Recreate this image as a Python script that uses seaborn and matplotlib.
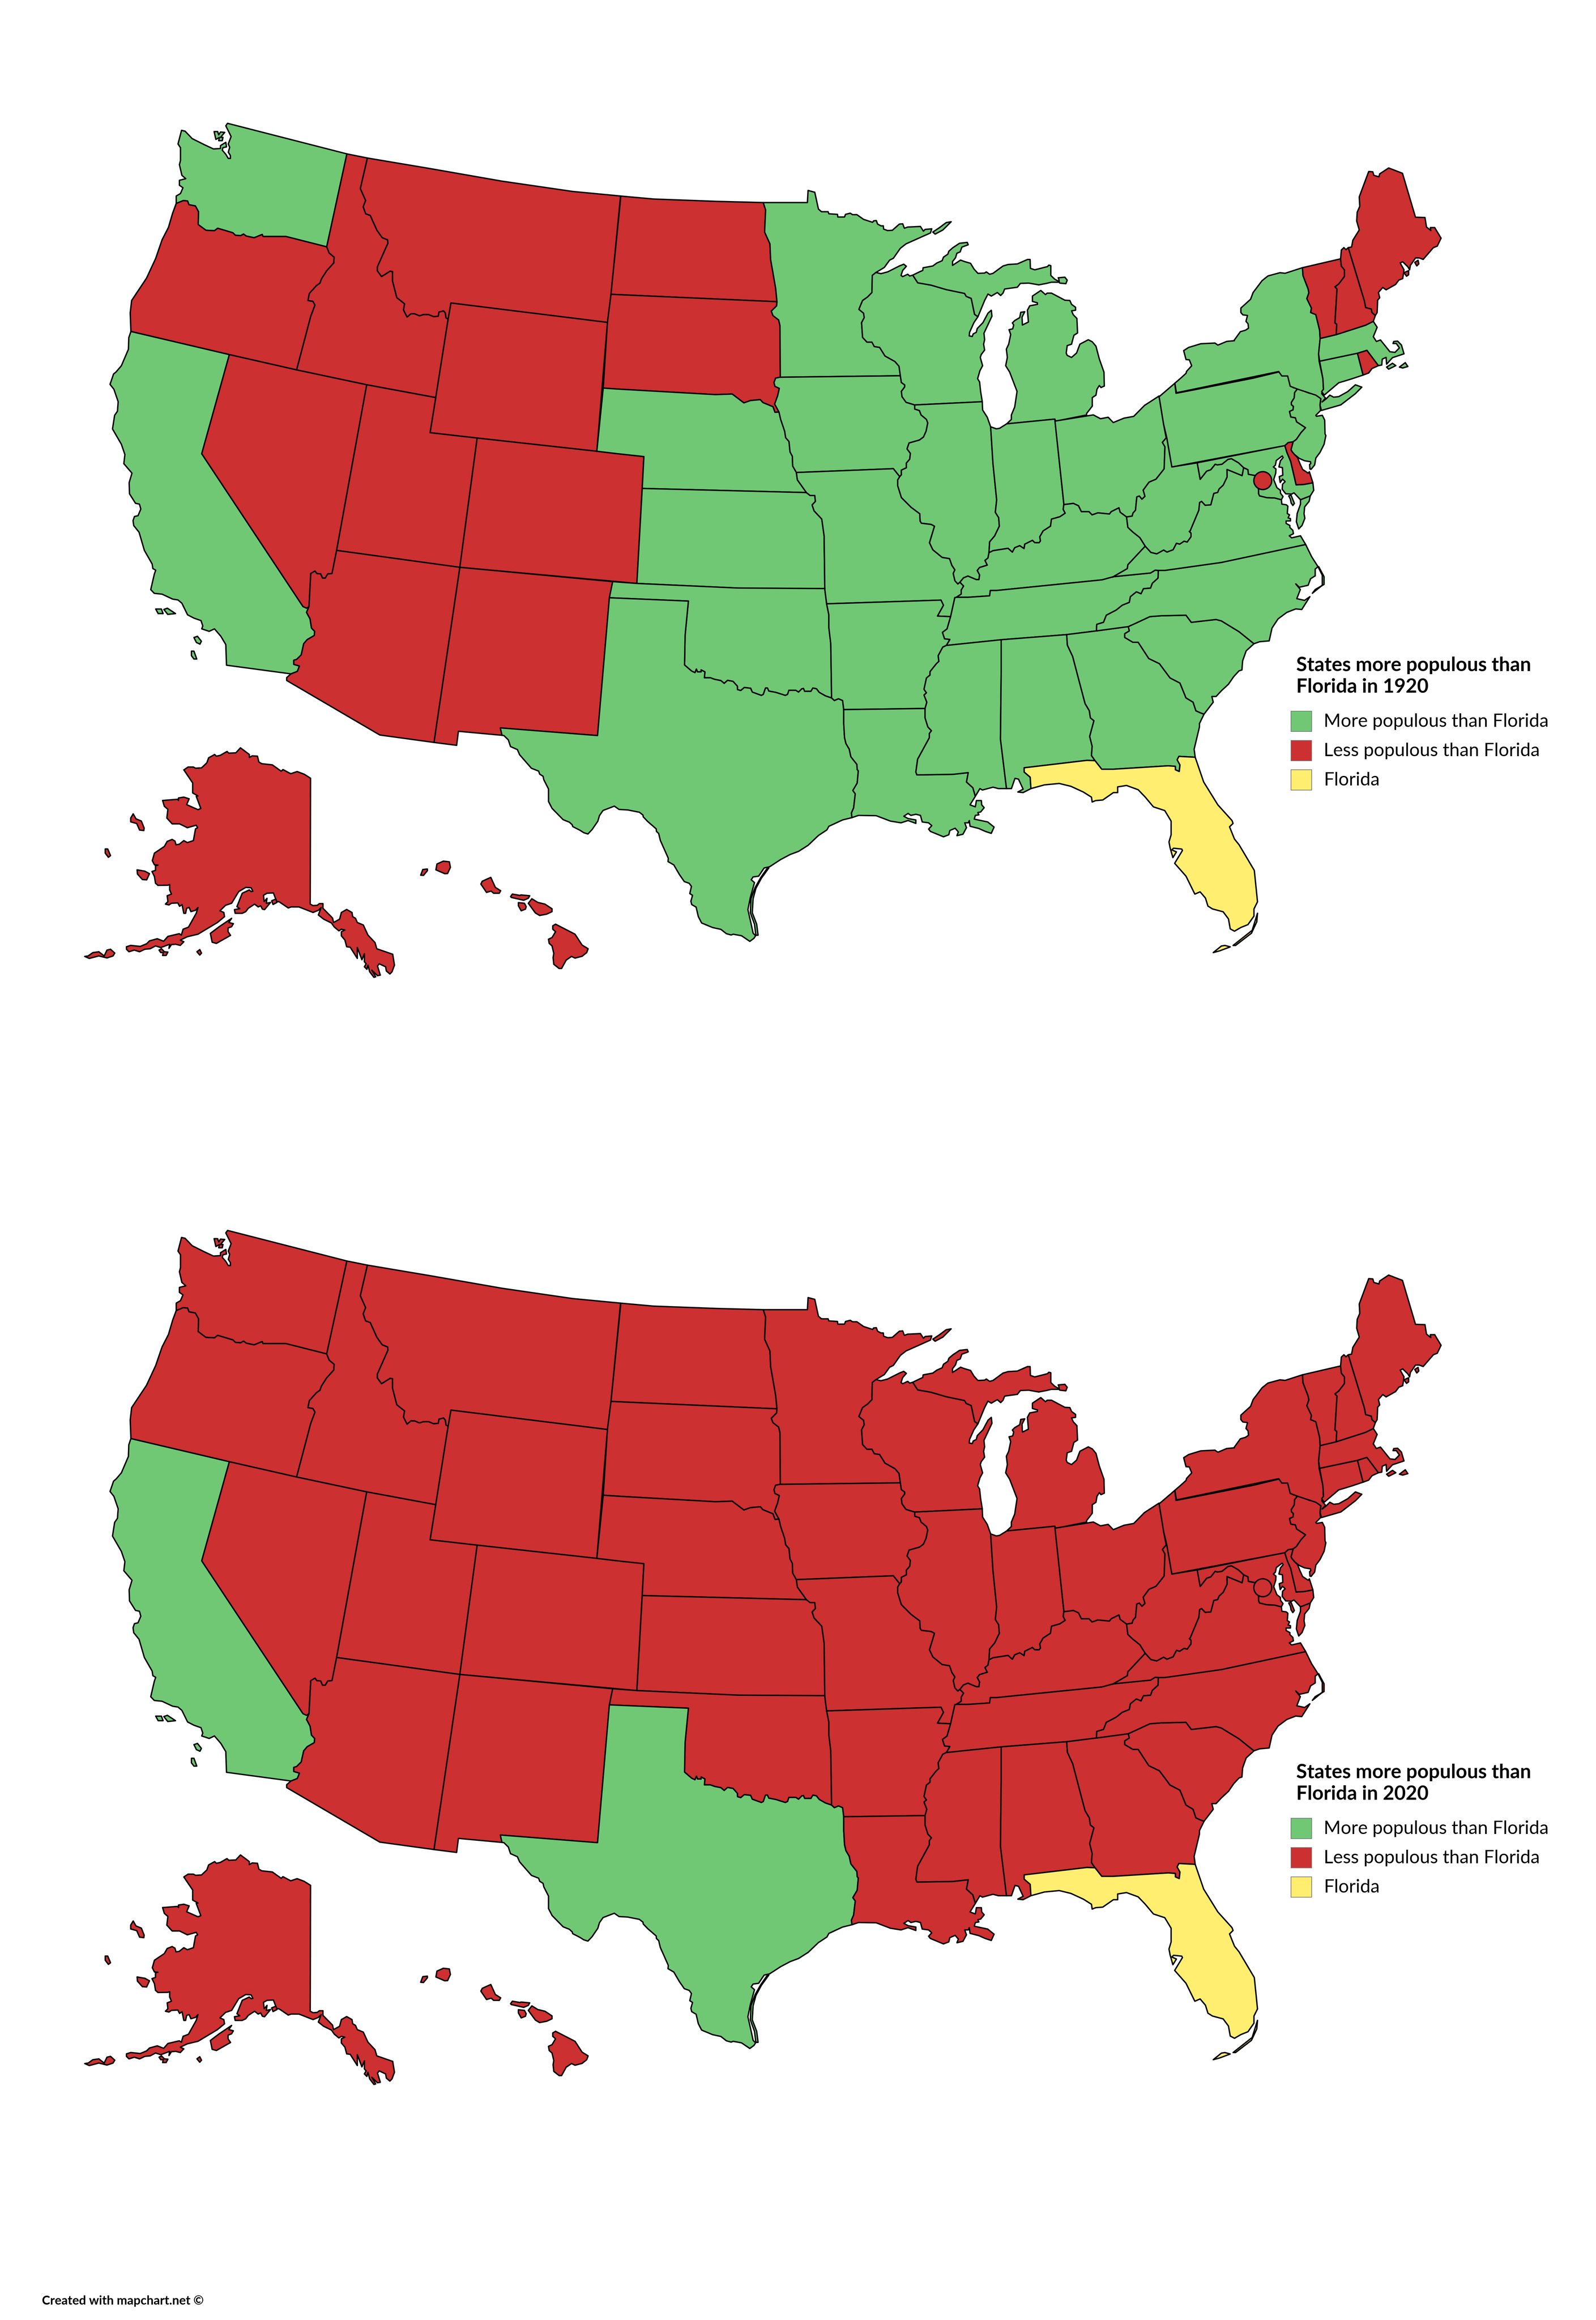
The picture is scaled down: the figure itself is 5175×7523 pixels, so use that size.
import matplotlib
matplotlib.use("Agg")
import matplotlib.pyplot as plt
from matplotlib.patches import Rectangle
import seaborn as sns

sns.set_theme(style="white")
plt.rcParams['font.family'] = ['Lato', 'DejaVu Sans']


def frame(x0, y0, w, h):
    return lambda pts: [(x0 + a * w / 1568, y0 + b * h / 1568) for a, b in pts]


def rev(arc):
    return arc[::-1]


A = frame(250, 350, 1800, 2100)
B = frame(2000, 500, 1700, 1500)
C = frame(3400, 450, 1300, 1500)
D = frame(2600, 1700, 1800, 1450)
E = frame(200, 2350, 1800, 850)
F = frame(1500, 1800, 1400, 1300)
G = frame(3750, 1100, 600, 700)

### shared borders
wa_or = A([(280,232),(300,225),(312,226),(316,235),(334,238),(343,252),(342,283),(364,297),(388,298),(397,292),(440,303),(447,309),(462,310),(470,306),(478,311),(500,315),(523,307),(525,312),(590,312),(705,337)])
or_id = A([(705,337),(712,352),(726,362),(725,376),(705,395),(690,415),(686,425),(676,431),(656,450),(652,467),(666,469),(672,478),(660,505),(620,635)])
id_mt = A([(820,122),(800,196),(815,225),(808,240),(815,257),(828,261),(847,297),(862,315),(877,320),(878,328),(848,386),(848,395),(860,409),(884,396),(891,397),(891,420),(903,460),(925,475),(922,490),(932,507),(943,499),(953,499),(967,504),(978,501),(993,501),(1007,506),(1020,505),(1022,495),(1035,492),(1040,497),(1042,509),(1048,512)])
nv_az = A([(733,1072),(720,1128),(708,1129),(701,1139),(693,1139),(688,1129),(677,1128),(672,1122),(660,1128),(655,1208)])
ca_az = A([(655,1208),(648,1222),(658,1238),(662,1260),(671,1268),(670,1278),(650,1288),(640,1298),(633,1325),(620,1336),(612,1338),(612,1348),(628,1352),(622,1365),(604,1371)])
nd_mn = B([(438,165),(445,190),(442,265),(458,305),(460,358),(475,455),(479,501)])
sd_mn = B([(479,501),(478,515),(462,533),(467,548),(484,563),(488,582),(489,757)])
sd_ia = B([(489,757),(475,760),(470,775),(473,788),(486,795),(481,820),(472,848),(485,875)])
sd_ne = B([(485,875),(473,876),(467,857),(437,843),(429,833),(400,836),(380,844),(345,814),(295,816),(0,797)])
ne_ia = B([(485,875),(490,900),(502,940),(505,962),(515,975),(518,1010),(525,1025),(526,1058),(537,1080)])
ne_mo = B([(537,1080),(540,1105),(567,1148)])
ks_mo = B([(567,1148),(578,1158),(592,1158),(594,1178),(584,1190),(590,1210),(613,1238),(620,1295),(622,1474)])
mn_wi = B([(775,402),(764,412),(763,470),(750,485),(735,497),(724,527),(738,540),(740,555),(732,572),(735,622),(748,638),(763,638),(770,653),(786,656),(802,685),(832,704),(844,720),(848,752)])
ia_wi = B([(848,752),(851,775),(861,783),(861,790),(851,805),(853,823),(865,842),(891,851)])
ia_il = B([(891,851),(891,865),(905,870),(910,885),(926,900),(930,912),(925,940),(917,960),(905,970),(874,980),(868,1000),(878,1015),(876,1035),(866,1048),(866,1064),(851,1072),(851,1088),(846,1094)])
il_mo = B([(846,1094),(840,1105),(840,1125),(851,1165),(880,1198),(906,1220),(907,1245),(911,1252),(940,1256),(950,1262),(935,1318),(945,1342),(973,1368),(995,1372),(1002,1395),(1011,1410),(1006,1422),(1011,1447),(1020,1458),(1026,1452)])
il_ky = B([(1026,1452),(1037,1437),(1050,1431),(1075,1443),(1083,1443),(1085,1427),(1078,1412),(1085,1402),(1108,1394),(1101,1378),(1110,1370),(1113,1352)])
in_ky = B([(1113,1352),(1125,1345),(1170,1337),(1183,1350),(1190,1335),(1205,1328),(1218,1338),(1220,1323),(1243,1310),(1250,1318),(1263,1318),(1267,1312),(1265,1298),(1275,1278),(1297,1262),(1300,1238),(1325,1230),(1341,1218),(1335,1205),(1337,1188)])
il_in = B([(1113,1352),(1115,1315),(1130,1295),(1144,1262),(1142,1233),(1132,1215),(1136,1173),(1125,1050),(1118,925)])
mi_wi = B([(885,411),(900,437),(940,445),(985,460),(1040,473),(1045,483),(1060,490),(1070,544),(1080,552)])
oh_ky = C([(60,1241),(97,1237),(117,1245),(128,1265),(158,1265),(170,1276),(193,1269),(238,1273),(245,1265),(275,1252),(280,1267),(305,1283)])
oh_wv = C([(305,1283),(327,1280),(330,1270),(340,1260),(345,1215),(355,1212),(365,1223),(377,1213),(370,1192),(393,1165),(420,1155),(452,1120),(455,1045),(445,1030),(460,1015)])
wv_ky = C([(305,1283),(310,1318),(328,1333),(357,1353),(378,1382)])
va_wv = C([(378,1382),(400,1403),(423,1408),(450,1395),(463,1402),(487,1394),(500,1372),(513,1375),(530,1365),(542,1368),(557,1350),(557,1338),(550,1332)]) + G([(282,1400),(358,1245),(365,1188),(382,1180),(412,1208),(460,1205),(485,1122),(518,1115),(530,1090),(565,1062),(598,1003),(597,948),(725,993),(738,935)])
ky_mo = B([(1026,1452),(1037,1465),(1030,1478),(1030,1492),(1015,1503)])
ky_tn = B([(1015,1503),(1050,1503),(1115,1498),(1117,1480),(1135,1480)]) + D([(848,196),(880,185)])
va_ky = C([(250,1487),(308,1458),(310,1445),(378,1382)])
tn_va = D([(880,185),(985,172),(998,162),(1007,163)])
va_nc = D([(1007,163),(1025,163),(1185,135),(1423,72)])
tn_nc = D([(1007,163),(1006,190),(990,208),(985,225),(965,227),(958,245),(945,238),(928,255),(925,275),(905,285),(888,302),(860,320),(852,345),(833,352),(832,375)])
tn_ga = D([(832,375),(748,388)])
tn_al = D([(748,388),(563,406)])
tn_ms = D([(563,406),(408,426)])
tn_ar = D([(408,426),(418,405),(403,403),(397,380),(410,368),(420,325)])
tn_mo = D([(420,325),(432,258)])
mo_ar = D([(420,325),(383,323),(400,285),(393,267),(70,280)])
ar_ms = D([(408,426),(398,432),(385,462),(387,482),(380,490),(362,518),(362,530),(352,540),(345,580),(352,592),(345,600),(353,625),(348,647)])
la_ms = D([(348,647),(348,680),(356,712),(366,725),(360,735),(360,750),(327,825),(322,870),(325,880),(427,878),(470,872),(465,905),(483,925),(490,955)])
ar_tx = F([(1340,560),(1350,570),(1365,563),(1380,570),(1384,605)])
la_tx = F([(1384,605),(1384,660),(1387,715),(1392,738),(1404,760),(1410,790),(1432,820),(1433,840),(1437,845),(1433,893),(1417,922),(1426,935),(1420,990),(1412,1010),(1414,1028)])
ok_tx = F([(1340,560),(1318,552),(1295,538),(1285,524),(1272,521),(1265,534),(1242,534),(1238,523),(1232,524),(1220,537),(1210,530),(1185,530),(1180,546),(1172,550),(1137,538),(1112,533),(1107,521),(1100,521),(1092,546),(1085,550),(1052,537),(1046,522),(1023,519),(1010,531),(998,527),(998,514),(982,495),(962,491),(950,503),(938,492),(915,487),(900,481),(878,481),(880,458),(866,450),(866,458),(853,458),(849,447),(844,461),(832,455),(806,431)])
nc_sc = D([(922,360),(945,347),(983,325),(1015,322),(1085,320),(1100,345),(1170,335),(1185,340),(1235,378),(1277,420)])
ga_sc = D([(922,360),(925,375),(912,385),(912,398),(935,415),(950,415),(980,472),(1010,490),(1040,540),(1068,558),(1085,610),(1105,625),(1113,655),(1125,662),(1136,667)])
ga_al = D([(748,388),(750,425),(765,465),(783,550),(800,630),(812,655),(815,680),(825,690),(813,745),(820,780),(818,812),(828,830)])
ga_fl = D([(828,830),(847,860),(880,860),(1035,848),(1055,850),(1055,862),(1066,868),(1068,845),(1060,827),(1065,815),(1111,818)])
al_fl = D([(828,830),(805,829),(628,855),(628,870),(645,888),(647,928)])
al_ms = D([(563,406),(563,520),(561,755),(578,928)])

### state outlines, a state is a list of rings
WA = [A([(425,38),(762,112),(705,337)]) + rev(wa_or) + A([(280,214),(292,208),(299,194),(289,188),(289,176),(307,172),(296,164),(289,138),(292,128),(292,97),(285,88),(295,55),(305,57),(325,75),(360,90),(385,100),(405,99),(405,92),(420,84),(422,95),(412,97),(410,103),(420,113),(427,123),(433,123),(433,116),(427,108),(431,96),(427,88),(435,70),(420,44)]),
      A([(387,58),(397,58),(400,66),(405,59),(417,60),(405,72),(412,72),(410,80),(400,80),(402,72),(392,77)])]
OR = [wa_or + or_id + A([(430,598),(152,542),(150,497),(154,467),(196,413),(222,365),(240,320),(258,290),(270,255)])]
CA = [A([(152,542),(430,598),(352,838),(638,1208)]) + ca_az + A([(422,1350),(420,1300),(406,1280),(388,1262),(373,1268),(352,1262),(355,1255),(350,1242),(330,1236),(312,1228),(296,1200),(285,1192),(270,1190),(240,1178),(218,1176),(208,1167),(218,1130),(222,1120),(214,1116),(212,1105),(190,1072),(175,1028),(160,1012),(158,1000),(162,990),(172,988),(180,972),(176,960),(165,958),(148,935),(147,908),(155,885),(132,862),(135,840),(125,815),(100,778),(106,745),(114,735),(116,712),(104,682),(93,670),(103,645),(110,640),(125,625),(145,585),(146,557)]),
      A([(222,1214),(238,1214),(243,1225),(229,1225)]),
      A([(245,1215),(255,1212),(278,1225),(256,1227)]),
      A([(330,1283),(340,1280),(351,1292),(347,1299),(337,1295)]),
      A([(323,1316),(330,1316),(338,1335),(330,1335),(323,1327)])]
ID = [A([(762,112),(820,122)]) + id_mt[1:] + A([(1013,702),(818,671),(620,635)]) + rev(or_id)]
MT = [A([(820,122),(1000,148),(1200,178),(1400,203),(1535,214),(1508,452),(1498,520),(1056,473)]) + rev(id_mt)]
WY = [A([(1056,473),(1498,520),(1468,832),(1130,800),(997,787),(1013,702),(1048,512)])]
NV = [A([(430,598),(620,635),(818,671)]) + nv_az + A([(648,1212),(638,1208),(352,838)])]
UT = [A([(818,671),(1013,702),(997,787),(1130,800),(1081,1113),(733,1072)])]
CO = [A([(1130,800),(1468,832)]) + B([(0,1016),(81,1026),(60,1456)]) + A([(1081,1113)])]
NM = [A([(1081,1113)]) + F([(545,105),(533,168),(490,707),(137,677),(143,706)]) + A([(1077,1510),(1072,1544),(1008,1537)])]
AZ = [A([(733,1072),(1081,1113),(1008,1537),(855,1519),(592,1387),(592,1380)]) + rev(ca_az) + rev(nv_az)]
ND = [B([(12,143),(110,153),(300,161)]) + nd_mn + A([(1508,452)])]
SD = [A([(1508,452)]) + sd_mn + sd_ia + sd_ne + A([(1486,679),(1498,520)])]
NE = [A([(1486,679)]) + rev(sd_ne) + ne_ia + ne_mo + B([(76,1134),(81,1026),(0,1016)]) + A([(1468,832)])]
KS = [B([(76,1134)]) + ks_mo + B([(365,1472),(60,1456)])]
OK = [F([(545,105),(632,112),(1000,130),(1315,132),(1322,192),(1330,235),(1330,285),(1337,348)]) + ok_tx + F([(808,315),(820,181),(533,168)])]
TX = [F([(533,168),(820,181),(808,315)]) + rev(ok_tx) + ar_tx + la_tx + F([(1380,1037),(1330,1062),(1323,1076),(1292,1098),(1255,1136),(1220,1160),(1190,1172),(1155,1192),(1115,1220),(1095,1225),(1075,1257),(1055,1260),(1048,1271),(1060,1282),(1045,1340),(1036,1388),(1047,1440),(1055,1480),(1064,1490),(1058,1500),(1043,1512),(1013,1490),(983,1484),(975,1487),(958,1482),(938,1465),(908,1458),(868,1440),(856,1415),(848,1378),(832,1368),(829,1355),(835,1332),(825,1325),(831,1297),(823,1285),(805,1278),(787,1250),(767,1213),(746,1200),(747,1187),(718,1117),(712,1090),(704,1082),(703,1072),(672,1043),(656,1025),(655,1018),(642,1007),(600,998),(568,996),(551,983),(510,1000),(497,1020),(491,1042),(470,1075),(455,1092),(440,1087),(427,1078),(400,1063),(398,1056),(388,1046),(365,1036),(325,992),(312,965),(312,916),(295,880),(292,866),(280,858),(276,846),(250,835),(207,782),(199,762),(174,750),(166,724),(150,707),(143,706),(137,677),(490,707)]),
      F([(1112,1225),(1085,1265),(1065,1305),(1055,1345),(1052,1400),(1068,1445),(1073,1488),(1065,1488),(1060,1445),(1045,1400),(1047,1345),(1062,1302),(1083,1262),(1105,1228)])]
MN = [B([(438,165),(570,165),(572,124),(592,130),(603,187),(612,196),(632,196),(634,203),(660,205),(661,214),(681,214),(684,205),(698,201),(705,206),(718,206),(738,222),(765,232),(768,227),(776,226),(780,238),(790,244),(797,244),(798,255),(810,260),(824,259),(845,238),(855,237),(860,252),(870,248),(908,246),(917,262),(922,256),(942,254),(938,268),(865,305),(848,320),(827,354),(816,360),(800,385)]) + mn_wi + B([(489,757)]) + rev(sd_mn) + rev(nd_mn),
      B([(945,265),(965,250),(985,233),(1000,230),(975,258),(952,272)])]
IA = [B([(489,757)]) + ia_wi + ia_il + B([(827,1067),(537,1080)]) + rev(ne_ia) + rev(sd_ia)]
WI = [B([(775,402),(790,406),(810,400),(845,380),(858,374),(866,381),(855,395),(850,412),(855,416),(870,408),(876,414)]) + mi_wi + B([(1068,572),(1055,605),(1054,617),(1063,619),(1066,610),(1075,605),(1078,592),(1095,572),(1110,540),(1120,530),(1122,550),(1098,608),(1100,630),(1097,645),(1100,665),(1090,680),(1087,690),(1094,718),(1086,735),(1079,762),(1085,773),(1088,805),(1093,840)]) + rev(ia_wi) + rev(mn_wi)]
MI = [mi_wi + B([(1100,497),(1110,475),(1120,482),(1138,470),(1148,480),(1155,472),(1160,458),(1198,452),(1207,439),(1232,438),(1262,444),(1285,439),(1300,435),(1323,435),(1325,438),(1343,440),(1347,428),(1340,418),(1320,420),(1322,425),(1323,433),(1310,425),(1298,412),(1298,379),(1292,377),(1288,382),(1250,393),(1237,388),(1236,358),(1228,358),(1198,373),(1170,375),(1155,380),(1125,405),(1115,408),(1105,400),(1100,404),(1080,405),(1068,390),(1058,371),(1040,365),(1028,360),(1004,378),(1004,365),(1013,352),(1017,337),(1027,332),(1032,316),(1051,308),(1048,300),(1025,303),(1005,318),(993,330),(990,340),(977,350),(973,362),(957,370),(945,380),(916,386),(915,395),(905,400)]),
      B([(1166,915),(1310,899),(1312,906),(1405,885),(1405,880),(1422,855),(1422,826),(1433,818),(1436,798),(1443,785),(1448,792),(1458,787),(1457,740),(1443,695),(1433,652),(1422,637),(1410,630),(1390,642),(1385,645),(1375,675),(1360,690),(1347,683),(1344,675),(1347,650),(1360,645),(1367,615),(1378,607),(1376,558),(1365,545),(1360,532),(1372,530),(1372,520),(1360,510),(1355,497),(1340,496),(1300,472),(1287,472),(1282,477),(1268,463),(1243,482),(1243,500),(1258,505),(1258,510),(1235,515),(1228,530),(1231,570),(1213,580),(1212,553),(1220,535),(1208,537),(1205,555),(1190,565),(1183,573),(1187,580),(1184,593),(1173,596),(1178,612),(1172,645),(1165,662),(1168,690),(1163,718),(1175,740),(1197,805),(1190,858),(1180,885),(1180,900)])]
IL = [B([(891,851),(1093,840),(1094,868),(1108,893),(1118,925)]) + rev(il_in) + rev(il_ky) + rev(il_mo) + rev(ia_il)]
IN = [B([(1118,925),(1135,932),(1145,930),(1166,915),(1310,899),(1337,1188)]) + rev(in_ky) + il_in]
OH = [C([(25,958),(175,937),(203,950),(233,945),(253,963),(295,948),(333,942),(375,905),(432,873),(450,970)]) + rev(oh_wv) + rev(oh_ky)]
KY = [in_ky + oh_ky + wv_ky + rev(va_ky) + rev(ky_tn) + rev(ky_mo) + il_ky]
TN = [ky_tn + tn_va + tn_nc + tn_ga + tn_al + tn_ms + tn_ar + tn_mo]
MO = [B([(537,1080),(827,1067)]) + il_mo + ky_mo + rev(tn_mo) + mo_ar + F([(1322,192),(1315,132)]) + rev(ks_mo) + rev(ne_mo)]
AR = [F([(1322,192),(1330,235),(1330,285),(1337,348)]) + ar_tx + D([(118,651)]) + rev(ar_ms) + tn_ar + mo_ar]
LA = [la_ms + D([(475,985),(490,992),(493,970),(507,970),(508,985),(515,995),(505,1010),(497,1012),(500,1020),(490,1022),(487,1035),(525,1045),(543,1063),(535,1085),(518,1078),(500,1068),(475,1060),(473,1040),(470,1048),(460,1048),(465,1065),(455,1088),(438,1093),(442,1080),(433,1067),(418,1075),(415,1090),(400,1097),(363,1078),(358,1070),(367,1058),(358,1048),(340,1045),(335,1022),(322,1018),(308,1022),(300,1015),(288,1025),(300,1033),(322,1038),(322,1050),(300,1040),(280,1048),(250,1042),(210,1023),(160,1022)]) + rev(la_tx) + D([(118,651)])]
MS = [tn_ms[::-1] + al_ms + D([(555,928),(540,923),(510,933),(503,928)]) + rev(la_ms) + rev(ar_ms)]
AL = [rev(tn_al) + ga_al + al_fl + D([(625,942),(610,940),(625,930),(612,895),(602,892),(592,928)]) + rev(al_ms)]
GA = [rev(tn_ga) + nc_sc[:1] + ga_sc + D([(1123,700),(1123,712),(1108,790)]) + rev(ga_fl) + rev(ga_al)]
FL = [ga_fl + D([(1135,905),(1175,985),(1215,1040),(1218,1050),(1208,1062),(1222,1105),(1235,1125),(1278,1215),(1285,1300),(1287,1325),(1277,1350),(1277,1375),(1260,1405),(1240,1415),(1222,1428),(1210,1420),(1205,1385),(1190,1360),(1160,1350),(1147,1340),(1140,1312),(1125,1290),(1110,1298),(1085,1235),(1053,1190),(1075,1145),(1073,1140),(1050,1137),(1045,1143),(1058,1150),(1048,1170),(1040,1135),(1037,1115),(1043,1090),(1043,1042),(1025,1005),(993,992),(970,958),(950,932),(917,917),(892,922),(892,942),(880,942),(850,968),(830,970),(820,975),(818,958),(795,940),(760,920),(727,910),(685,915)]) + rev(al_fl),
      D([(1162,1503),(1185,1480),(1195,1478),(1210,1483),(1180,1497)]),
      D([(1218,1478),(1272,1425),(1287,1365),(1285,1395),(1270,1435),(1225,1478)])]
SC = [nc_sc + D([(1255,445),(1245,480),(1243,512),(1235,515),(1220,535),(1205,562),(1185,585),(1170,605),(1158,605),(1162,625)]) + rev(ga_sc)]
NC = [va_nc + D([(1440,115),(1458,150),(1450,158),(1450,182),(1437,192),(1430,215),(1405,222),(1395,210),(1408,230),(1398,262),(1420,268),(1435,255),(1412,300),(1395,298),(1370,310),(1345,333),(1328,365),(1320,410),(1293,413)]) + rev(nc_sc) + tn_ga[:1] + rev(tn_nc),
      D([(1460,150),(1475,185),(1475,212),(1450,230),(1442,243),(1470,215),(1470,180),(1458,150)])]
VA = [G([(738,935),(775,950),(778,983),(835,992),(865,1095),(865,1125),(873,1140),(935,1153),(1000,1155),(1058,1168),(1062,1200),(1100,1205),(1113,1215),(1108,1268),(1127,1278),(1115,1300),(1135,1305),(1135,1322),(1098,1322),(1098,1340),(1130,1355),(1130,1370),(1155,1390),(1160,1415),(1125,1430),(1145,1445),(1220,1430)]) + rev(va_nc) + rev(tn_va) + va_ky + va_wv,
      G([(1220,1168),(1303,1140),(1293,1180),(1255,1220),(1250,1270),(1257,1303),(1233,1355),(1205,1380),(1185,1328),(1192,1268),(1220,1200)])]
WV = [G([(130,930),(345,900),(370,1020),(425,960),(460,950),(497,910),(515,915),(555,910),(605,875),(635,870),(695,900)]) + rev(va_wv) + rev(wv_ky) + oh_wv + G([(88,722)])]
MD = [G([(345,900),(1087,775),(1105,825),(1137,890),(1160,975),(1183,1060),(1250,1057),(1325,1045),(1332,1100),(1303,1140),(1220,1168),(1165,1118),(1145,1127),(1095,1125),(1065,1092),(1068,1055),(1090,1037),(1068,1018),(1048,1043),(1040,1000),(1070,990),(1067,935),(1037,930),(1050,885),(1073,862),(1065,850),(1015,883),(1007,917),(990,930),(1012,945),(1010,975),(993,1022),(1020,1080),(1050,1100),(1050,1120),(1072,1145),(1058,1168),(1000,1155),(935,1153),(873,1140),(865,1125),(865,1095),(835,992),(778,983),(775,950),(738,935),(695,900),(635,870),(605,875),(555,910),(515,915),(497,910),(460,950),(425,960),(370,1020)]),
      G([(1120,1140),(1140,1135),(1168,1195),(1155,1210),(1140,1190),(1135,1165)])]
DE = [G([(1087,775),(1115,753),(1158,747),(1140,805),(1150,820),(1170,840),(1195,862),(1215,905),(1238,948),(1285,975),(1295,965),(1325,1045),(1250,1057),(1183,1060),(1160,975),(1137,890),(1105,825)])]
PA = [G([(22,420),(155,322),(165,395),(270,378),(820,285),(1037,240),(1068,268),(1112,268),(1133,335),(1160,355),(1197,360),(1170,390),(1167,428),(1142,462),(1143,478),(1160,490),(1157,515),(1127,527),(1138,567),(1177,573),(1187,602),(1263,645),(1225,680),(1185,730),(1158,747),(1115,753),(1087,775),(130,930),(88,722),(60,620)])]
NJ = [G([(1197,360),(1290,393),(1358,405),(1393,425),(1385,480),(1390,520),(1350,555),(1355,562),(1405,555),(1425,590),(1428,690),(1435,702),(1420,765),(1385,825),(1350,865),(1340,915),(1310,947),(1300,945),(1297,913),(1307,905),(1305,892),(1255,885),(1210,868),(1170,840),(1150,820),(1140,805),(1158,747),(1185,730),(1225,680),(1263,645),(1187,602),(1177,573),(1138,567),(1127,527),(1157,515),(1160,490),(1143,478),(1142,462),(1167,428),(1170,390)])]
NY = [G([(155,322),(205,285),(250,250),(255,235),(298,195),(278,152),(250,150),(230,85),(272,62),(375,35),(495,30),(520,45),(595,18),(660,13)]) + C([(725,685),(750,655),(770,650),(782,643),(780,628),(772,620),(778,600),(760,598),(752,590),(752,575),(790,545),(800,522),(835,482),(858,466),(905,455),(925,457),(993,438),(995,465),(1015,510),(1018,523),(1010,543),(1028,575),(1025,590),(1045,597),(1060,650),(1062,680),(1056,730),(1058,755),(1073,815),(1075,850),(1068,865),(1083,880),(1070,893),(1085,883),(1100,870),(1115,877),(1135,875),(1170,858),(1200,835),(1225,843),(1200,865),(1143,903),(1067,922),(1062,905),(1065,882),(1045,870),(975,850),(945,840),(935,805),(912,805),(900,790),(500,862)])]
CT = [C([(1060,755),(1208,728),(1230,802),(1185,815),(1155,823),(1135,828),(1078,870),(1068,858),(1075,850),(1073,815)])]
RI = [C([(1208,728),(1245,718),(1290,770),(1265,780),(1252,795),(1230,802)])]
MA = [C([(1062,678),(1125,665),(1240,633),(1270,620),(1285,640),(1270,672),(1282,688),(1298,683),(1335,723),(1355,725),(1372,710),(1360,695),(1347,695),(1350,688),(1365,687),(1380,700),(1390,730),(1345,743),(1322,765),(1320,742),(1305,748),(1303,768),(1290,770),(1245,718),(1208,728),(1060,755),(1056,730)]),
      C([(1322,775),(1345,762),(1358,770),(1330,782)]),
      C([(1372,775),(1395,760),(1405,773),(1385,778)])]
VT = [C([(993,438),(1142,408),(1145,433),(1157,445),(1157,468),(1135,493),(1120,503),(1128,510),(1120,625),(1127,630),(1125,665),(1062,678),(1060,650),(1045,597),(1025,590),(1028,575),(1010,543),(1018,523),(1015,510),(995,465)])]
NH = [C([(1145,378),(1155,370),(1163,377),(1172,370),(1235,550),(1240,573),(1262,578),(1265,590),(1278,600),(1270,620),(1240,633),(1125,665),(1127,630),(1120,625),(1128,510),(1120,503),(1135,493),(1157,468),(1157,445),(1145,433),(1142,408)])]
ME = [C([(1172,370),(1185,368),(1190,345),(1215,310),(1205,280),(1207,250),(1217,230),(1215,198),(1252,112),(1268,113),(1272,125),(1292,130),(1295,120),(1330,100),(1384,118),(1435,267),(1472,268),(1478,300),(1495,312),(1493,302),(1510,302),(1535,338),(1520,365),(1505,370),(1465,410),(1450,405),(1435,405),(1425,418),(1415,430),(1412,445),(1405,435),(1385,418),(1375,422),(1390,445),(1385,475),(1370,480),(1357,495),(1320,513),(1307,505),(1290,522),(1295,540),(1287,548),(1285,590),(1278,600),(1265,590),(1262,578),(1240,573),(1235,550)]),
      C([(1432,420),(1445,413),(1448,425),(1440,432)]),
      C([(1390,455),(1408,448),(1408,462),(1400,467)])]
AK = [E([(505,140),(530,180),(530,198),(538,188),(553,190),(557,225),(565,235),(595,242),(620,280),(625,270),(647,295),(665,282),(685,298),(703,322),(702,1075),(710,1084),(722,1082),(728,1072),(738,1072),(738,1100),(765,1158),(768,1185),(785,1165),(790,1125),(805,1107),(820,1125),(822,1150),(830,1160),(835,1185),(852,1200),(865,1260),(885,1305),(890,1342),(935,1375),(940,1440),(933,1480),(927,1493),(917,1475),(915,1450),(897,1432),(892,1445),(900,1500),(892,1503),(876,1470),(887,1510),(882,1513),(870,1480),(865,1440),(862,1465),(855,1450),(860,1432),(855,1420),(855,1372),(848,1408),(835,1335),(835,1400),(815,1333),(805,1330),(800,1290),(790,1265),(790,1240),(800,1230),(790,1225),(783,1235),(770,1212),(762,1188),(740,1165),(725,1140),(733,1095),(725,1112),(710,1125),(680,1100),(670,1092),(648,1092),(640,1098),(615,1062),(607,1058),(598,1008),(580,1010),(570,1022),(572,1060),(580,1040),(578,1070),(590,1065),(573,1108),(567,1105),(562,1085),(555,1092),(545,1075),(527,1100),(520,1120),(510,1130),(490,1130),(488,1108),(503,1102),(495,1090),(510,1010),(530,990),(535,1000),(540,998),(535,977),(520,975),(500,1000),(480,1070),(463,1082),(447,1115),(458,1125),(460,1150),(440,1185),(385,1255),(355,1270),(335,1290),(345,1300),(335,1322),(322,1315),(310,1317),(303,1340),(305,1315),(280,1335),(265,1325),(250,1342),(235,1345),(220,1360),(205,1350),(190,1360),(183,1345),(183,1330),(195,1322),(222,1328),(240,1312),(248,1295),(270,1282),(288,1297),(300,1268),(332,1252),(338,1260),(343,1225),(358,1213),(380,1130),(385,1095),(378,1112),(365,1120),(360,1095),(353,1100),(350,1130),(345,1130),(340,1078),(333,1088),(328,1068),(310,1070),(303,1080),(293,1075),(300,1060),(298,1025),(310,1015),(305,990),(305,958),(300,962),(272,963),(265,950),(262,910),(255,880),(265,873),(265,845),(272,842),(262,840),(256,815),(262,770),(290,730),(298,700),(312,688),(320,698),(323,720),(332,717),(345,695),(355,707),(372,695),(378,625),(384,618),(380,603),(355,618),(333,595),(312,595),(297,560),(300,508),(290,490),(285,455),(327,448),(330,455),(330,440),(345,435),(360,445),(353,480),(385,510),(393,503),(380,430),(385,428),(370,410),(370,350),(345,272),(357,255),(372,255),(378,262),(395,260),(410,230),(415,200),(432,180),(437,190),(448,185),(467,162),(472,172),(492,170)]),
      E([(202,535),(210,565),(225,578),(233,620),(232,635),(220,632),(212,593),(195,583),(195,560)]),
      E([(123,745),(130,745),(138,785),(132,795),(123,770)]),
      E([(213,870),(235,878),(248,893),(240,930),(228,928),(214,895)]),
      E([(480,1160),(472,1185),(485,1192),(480,1210),(470,1218),(470,1240),(477,1262),(437,1310),(425,1303),(420,1250),(445,1210)]),
      E([(593,1055),(605,1045),(608,1065),(597,1077)]),
      E([(275,1350),(282,1342),(290,1360),(300,1362),(295,1382),(285,1382),(287,1365),(280,1365)]),
      E([(382,1360),(390,1347),(395,1368),(390,1380)]),
      E([(65,1388),(75,1385),(88,1365),(105,1360),(120,1385),(128,1350),(138,1345),(150,1368),(145,1385),(128,1397),(105,1385),(78,1400)])]
HI = [E([(1060,835),(1078,818),(1095,822),(1098,855),(1090,892),(1082,893),(1057,870)]),
      E([(1020,868),(1033,865),(1033,875),(1022,903),(1014,902)]),
      E([(1212,915),(1225,975),(1240,995),(1236,1010),(1220,1010),(1213,997),(1200,1005),(1184,955),(1188,938)]),
      E([(1273,1015),(1295,1023),(1297,1020),(1322,1025),(1318,1040),(1305,1052),(1270,1035),(1268,1030)]),
      E([(1290,1066),(1307,1070),(1312,1090),(1310,1105),(1298,1115),(1290,1085)]),
      E([(1328,1043),(1345,1065),(1365,1075),(1385,1103),(1385,1120),(1370,1135),(1350,1143),(1338,1128),(1318,1070)]),
      E([(1395,1195),(1450,1255),(1470,1320),(1487,1342),(1483,1365),(1470,1387),(1450,1398),(1440,1388),(1425,1410),(1412,1460),(1405,1460),(1390,1435),(1388,1395),(1390,1370),(1385,1325),(1377,1310),(1375,1285),(1385,1275),(1395,1240),(1387,1225),(1387,1205)])]

states = dict(WA=WA, OR=OR, CA=CA, ID=ID, MT=MT, WY=WY, NV=NV, UT=UT, CO=CO, NM=NM, AZ=AZ, ND=ND, SD=SD, NE=NE, KS=KS, OK=OK, TX=TX,
              MN=MN, IA=IA, WI=WI, MI=MI, IL=IL, IN=IN, OH=OH, KY=KY, TN=TN, MO=MO, AR=AR, LA=LA, MS=MS, AL=AL, GA=GA, FL=FL, SC=SC, NC=NC,
              VA=VA, WV=WV, MD=MD, DE=DE, PA=PA, NJ=NJ, NY=NY, CT=CT, RI=RI, MA=MA, VT=VT, NH=NH, ME=ME, AK=AK, HI=HI)

### who was bigger than Florida
more_1920 = ['WA','CA','MN','WI','MI','IA','IL','IN','OH','NY','PA','NJ','MA','CT','MD','VA','WV','KY','TN','NC','SC','GA','AL','MS','LA','AR','MO','KS','NE','OK','TX']
more_2020 = ['CA','TX']
years = [1920, 2020]
more_by_year = [more_1920, more_2020]
legend_labels = ['More populous than Florida', 'Less populous than Florida', 'Florida']
dc_x = [4094]
dc_y = [1559]

green, red, yellow = '#70c875', '#cc3031', '#ffee70'
shift = 3590

fig = plt.figure(figsize=(51.75, 75.24), dpi=100, facecolor='white')
ax = fig.add_axes([0, 0, 1, 1])
ax.set_xlim(0, 5175)
ax.set_ylim(7524, 0)
ax.axis('off')
sns.despine(ax=ax, left=True, bottom=True)

for i, year in enumerate(years):
    dy = shift * i
    for name, rings in states.items():
        if name == 'FL':
            col = yellow
        elif name in more_by_year[i]:
            col = green
        else:
            col = red
        for ring in rings:
            ax.fill([p[0] for p in ring], [p[1] + dy for p in ring], facecolor=col,
                    edgecolor='black', linewidth=3.2, joinstyle='round')
    # DC is a dot on this map
    sns.scatterplot(x=dc_x, y=[v + dy for v in dc_y], ax=ax, s=1750, color=red, edgecolor='black',
                    linewidth=3.2, legend=False, zorder=5)

    ax.text(4203, 2176 + dy, 'States more populous than', fontsize=46, fontweight='bold', color='black', va='baseline')
    ax.text(4203, 2246 + dy, 'Florida in %d' % year, fontsize=46, fontweight='bold', color='black', va='baseline')
    for lab, col, top in zip(legend_labels, [green, red, yellow], [2307, 2402, 2497]):
        ax.add_patch(Rectangle((4186, top + dy), 67, 66, facecolor=col, edgecolor='#777777', linewidth=1.5))
        ax.text(4292, top + 50 + dy, lab, fontsize=43, fontweight='normal', color='black', va='baseline')

ax.text(136, 7473, 'Created with mapchart.net ©', fontsize=29, fontweight='bold', color='black', va='baseline')

fig.savefig('out.png', dpi=100, facecolor='white')
